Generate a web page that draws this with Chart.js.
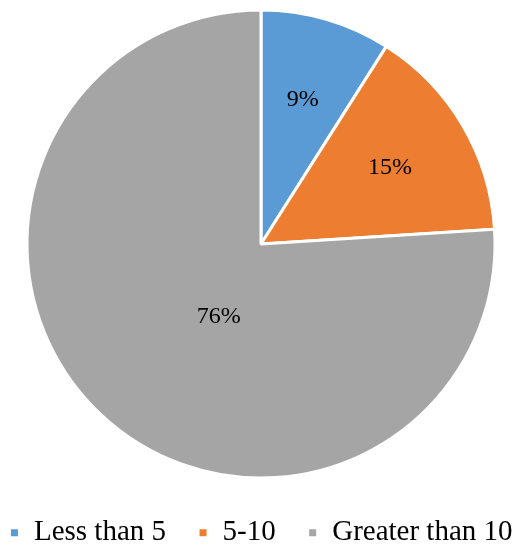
<!DOCTYPE html>
<html>
<head>
<meta charset="utf-8">
<script src="https://cdn.jsdelivr.net/npm/chart.js@4/dist/chart.umd.min.js"></script>
<style>
html,body{margin:0;padding:0;background:#fff;}
#wrap{width:520px;height:546px;position:relative;}
</style>
</head>
<body>
<div id="wrap"><canvas id="c" width="520" height="546"></canvas></div>
<script>
const categories = ['Less than 5', '5-10', 'Greater than 10'];
const values = [9, 15, 76];
const valueLabels = ['9%', '15%', '76%'];
const colors = ['#5B9BD5', '#ED7D31', '#A5A5A5'];

const SERIF = '"Times New Roman", "Liberation Serif", "DejaVu Serif", serif';

// keep the legend on one row with wide gaps, and reserve a fixed band for it
const legendLayoutPlugin = {
  id: 'legendLayout',
  beforeLayout(chart, args, opts) {
    const lg = chart.legend;
    if (lg && !lg._patched) {
      const origFit = lg.fit;
      lg.fit = function () {
        const mw = this.maxWidth;
        this.maxWidth = 100000;
        origFit.call(this);
        this.maxWidth = mw;
        this.width = mw;
        this.height = opts.height;
      };
      const origDraw = lg.draw;
      lg.draw = function () {
        const L = this.left, R = this.right;
        this.left = L - 200;
        this.right = R + 200;
        origDraw.call(this);
        this.left = L;
        this.right = R;
      };
      lg._patched = true;
    }
  }
};

const sliceLabels = {
  id: 'sliceLabels',
  afterDatasetsDraw(chart, args, opts) {
    const ctx = chart.ctx;
    const meta = chart.getDatasetMeta(0);
    ctx.save();
    ctx.font = opts.fontSize + 'px ' + SERIF;
    ctx.fillStyle = '#000';
    ctx.textAlign = 'center';
    ctx.textBaseline = 'middle';
    meta.data.forEach((arc, i) => {
      const p = arc.getProps(['x', 'y', 'startAngle', 'endAngle', 'outerRadius'], true);
      const mid = (p.startAngle + p.endAngle) / 2 + (opts.angleShift[i] || 0) * Math.PI / 180;
      const r = p.outerRadius * opts.radial[i];
      ctx.fillText(valueLabels[i], p.x + Math.cos(mid) * r, p.y + Math.sin(mid) * r);
    });
    ctx.restore();
  }
};

new Chart(document.getElementById('c'), {
  type: 'pie',
  data: {
    labels: categories,
    datasets: [{
      data: values,
      backgroundColor: colors,
      borderColor: '#ffffff',
      borderWidth: 3,
      hoverOffset: 0,
      radius: 234
    }]
  },
  options: {
    responsive: false,
    animation: false,
    layout: { padding: { top: 12, left: 2, right: 0, bottom: 0 } },
    plugins: {
      tooltip: { enabled: false },
      legendLayout: { height: 70 },
      sliceLabels: { fontSize: 24, radial: [0.64, 0.64, 0.36], angleShift: [0, 0, -13] },
      legend: {
        position: 'bottom',
        title: { display: true, text: ' ', padding: { top: 9, bottom: 0 }, font: { size: 1 } },
        labels: {
          boxWidth: 10,
          boxHeight: 10,
          padding: 32,
          color: '#000',
          font: { family: SERIF, size: 29 }
        }
      }
    }
  },
  plugins: [legendLayoutPlugin, sliceLabels]
});
</script>
</body>
</html>
